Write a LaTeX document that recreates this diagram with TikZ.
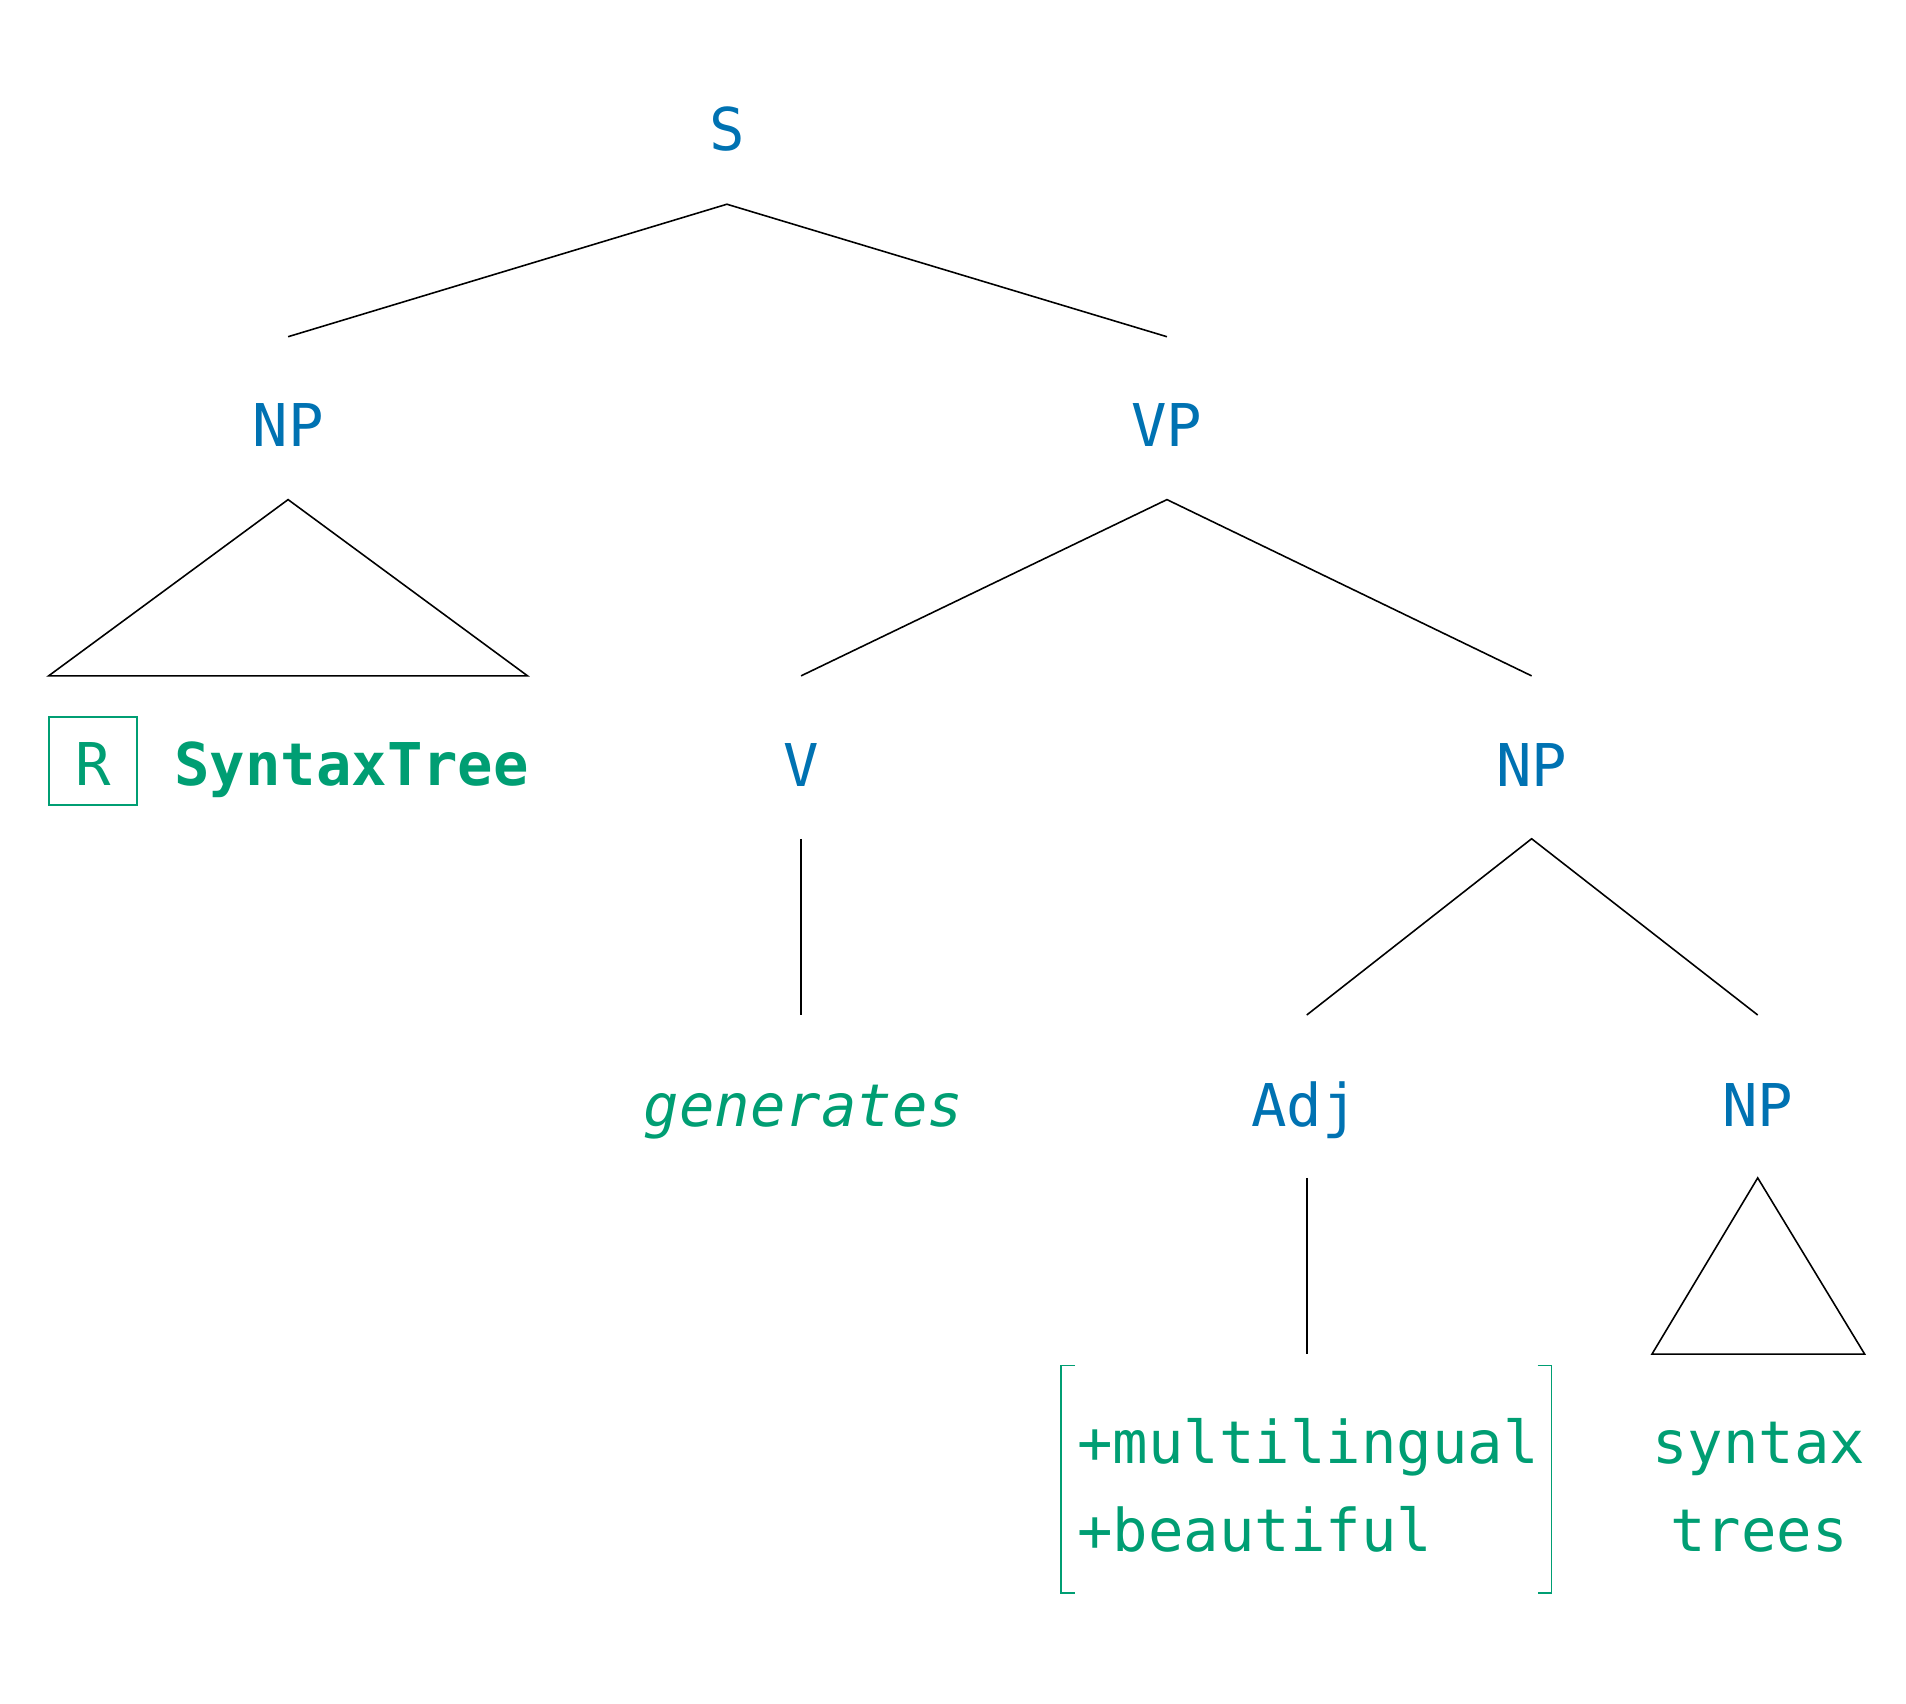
\documentclass[tikz,border=0pt]{standalone}
\usepackage{fontspec}
\newfontfamily\monofam{DejaVu Sans Mono}
\definecolor{catblue}{HTML}{0072B2}
\definecolor{leafgreen}{HTML}{009E73}
\newcommand{\treefont}{\monofam\fontsize{48.5}{58}\selectfont}
\tikzset{
  cat/.style={text=catblue, font=\treefont, anchor=base, inner sep=0pt},
  leaf/.style={text=leafgreen, font=\treefont, anchor=base, inner sep=0pt},
  branch/.style={draw=black, line width=1.3pt, line join=miter},
  greenline/.style={draw=leafgreen, line width=1.2pt}
}
\begin{document}
\begin{tikzpicture}[x=1pt,y=-1pt]
\useasboundingbox (0,0) rectangle (1568,1401);
% labels
\node[cat] (S) at (598.5,123.5) {S};
\node[cat] (NPa) at (237,367) {NP};
\node[cat] (VP) at (960,367) {VP};
\node[cat] (V) at (659,647) {V};
\node[cat] (NPb) at (1260,647) {NP};
\node[cat] (Adj) at (1073,927) {Adj};
\node[cat] (NPc) at (1446,927) {NP};
% leaves
\node[greenline, minimum width=72.5pt, minimum height=72.5pt, inner sep=0pt] (Rbox) at (76.4,626) {};
\node[leaf] (R) at (77,646) {R};
\node[leaf, anchor=base west] (ST) at (143,646) {\bfseries SyntaxTree};
\node[leaf] (gen) at (661,927) {\itshape generates};
\node[leaf, anchor=base west] (ml) at (886,1204) {+multilingual};
\node[leaf, anchor=base west] (bt) at (886,1276) {+beautiful};
\node[leaf] (syn) at (1447,1204) {syntax};
\node[leaf] (trs) at (1447,1276) {trees};
% connector coordinates
\coordinate (Sd) at (598,168);
\coordinate (NPau) at (237,277);
\coordinate (VPu) at (960,277);
\coordinate (NPad) at (237,411);
\coordinate (triAl) at (40,556);
\coordinate (triAr) at (434,556);
\coordinate (VPd) at (960,411);
\coordinate (Vu) at (659,556);
\coordinate (NPbu) at (1260,556);
\coordinate (Vd) at (659,690);
\coordinate (genu) at (659,835);
\coordinate (NPbd) at (1260,690);
\coordinate (Adju) at (1075,835);
\coordinate (NPcu) at (1446,835);
\coordinate (Adjd) at (1075,969);
\coordinate (featu) at (1075,1114);
\coordinate (NPcd) at (1446,969);
\coordinate (triCl) at (1359,1114);
\coordinate (triCr) at (1534,1114);
% branches
\draw[branch] (NPau) -- (Sd) -- (VPu);
\draw[branch] (triAl) -- (NPad) -- (triAr) -- cycle;
\draw[branch] (Vu) -- (VPd) -- (NPbu);
\draw[branch] (Vd) -- (genu);
\draw[branch] (Adju) -- (NPbd) -- (NPcu);
\draw[branch] (Adjd) -- (featu);
\draw[branch] (triCl) -- (NPcd) -- (triCr) -- cycle;
% feature bracket
\coordinate (bl1) at (884.5,1123.5);
\coordinate (bl2) at (873,1123.5);
\coordinate (bl3) at (873,1310.5);
\coordinate (bl4) at (884.5,1310.5);
\coordinate (br1) at (1265,1123.5);
\coordinate (br2) at (1276.5,1123.5);
\coordinate (br3) at (1276.5,1310.5);
\coordinate (br4) at (1265,1310.5);
\draw[greenline] (bl1) -- (bl2) -- (bl3) -- (bl4);
\draw[greenline] (br1) -- (br2) -- (br3) -- (br4);
\end{tikzpicture}
\end{document}
